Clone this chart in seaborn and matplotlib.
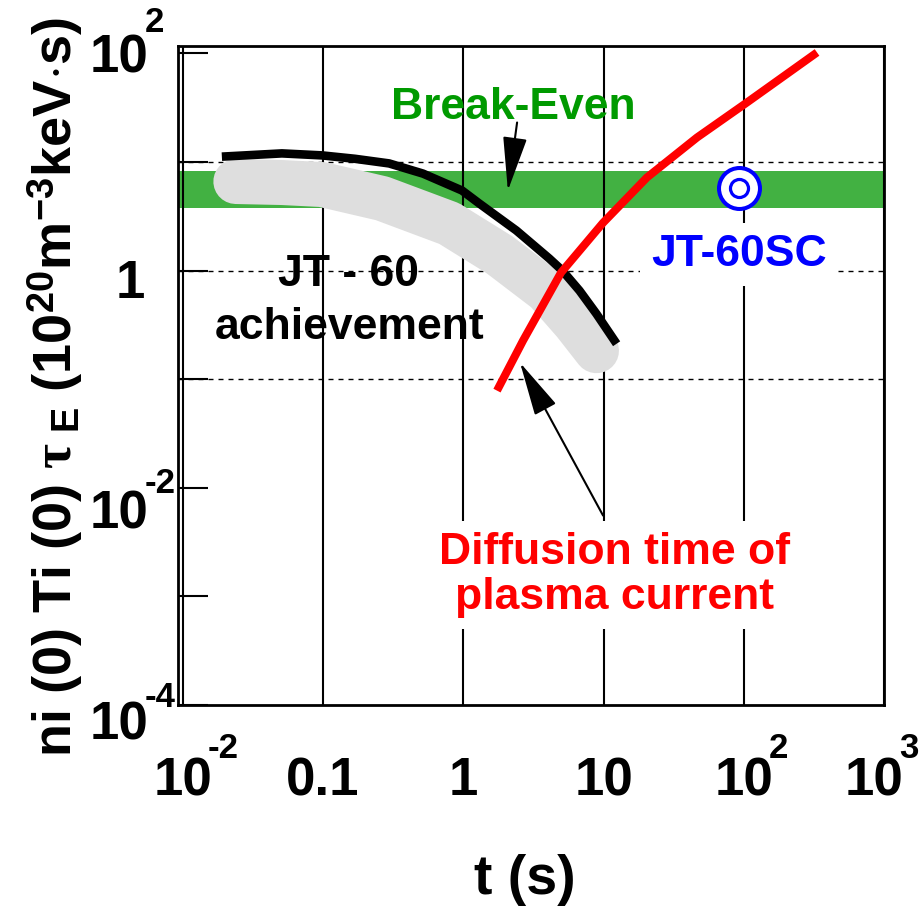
import matplotlib
matplotlib.use("Agg")
import matplotlib.pyplot as plt
from matplotlib.ticker import NullLocator
import seaborn as sns

# ---------------- data ----------------
jt60_t = [0.0190, 0.0509, 0.0984, 0.169, 0.296, 0.516, 0.98, 1.30, 2.39, 4.11, 5.09, 6.74, 8.9, 12.4]
jt60_v = [11.2, 12.0, 11.5, 10.7, 9.7, 7.82, 5.46, 4.15, 2.34, 1.29, 1.0, 0.654, 0.40, 0.212]

gray_t = [0.0239, 0.0509, 0.0984, 0.264, 0.794, 1.81, 3.92, 6.21, 8.91]
gray_v = [6.61, 6.47, 6.2, 4.61, 2.71, 1.40, 0.654, 0.332, 0.183]

diff_t = [1.74, 2.67, 4.98, 9.91, 20.4, 46.4, 105, 333]
diff_v = [0.0785, 0.227, 0.958, 2.75, 7.2, 16.8, 35.2, 102]

breakeven_low = 3.8
breakeven_high = 8.2

jt60sc_t = [92.7]
jt60sc_v = [5.81]

x_ticks = [1e-2, 0.1, 1, 10, 1e2, 1e3]
x_tick_base = ["10", "0.1", "1", "10", "10", "10"]
x_tick_sup = ["-2", "", "", "", "2", "3"]

y_ticks_major = [1e-4, 1e-2, 1, 1e2]
y_tick_base = ["10", "10", "1", "10"]
y_tick_sup = ["-4", "-2", "", "2"]
y_ticks_minor = [1e-3, 1e-1, 10]
dashed_levels = [0.1, 1, 10]

# ---------------- layout / style ----------------
x_label_dx = [0, 0, 0, 0, 0, -10]
y_label_dx = [-30, -30, -33, -30]
y_label_dy = [-35, -41, -27, -19]
y_sup_dy = [-2, -5, 0, 21]

sns.set_theme(style="white")
plt.rcParams["font.family"] = ["Liberation Sans", "DejaVu Sans"]
plt.rcParams["font.weight"] = "bold"
plt.rcParams["text.color"] = "black"
plt.rcParams["axes.labelcolor"] = "black"
plt.rcParams["mathtext.fontset"] = "custom"
plt.rcParams["mathtext.rm"] = "Liberation Sans:bold"
plt.rcParams["mathtext.bf"] = "Liberation Sans:bold"
plt.rcParams["mathtext.sf"] = "Liberation Sans:bold"
plt.rcParams["mathtext.it"] = "Liberation Serif"

fig = plt.figure(figsize=(9.21, 9.09), dpi=100)
ax = fig.add_axes([178 / 921, 1 - 705 / 909, 706 / 921, 659 / 909])
ax.set_xscale("log")
ax.set_yscale("log")
ax.set_xlim(10 ** -2.034, 1e3)
ax.set_ylim(1e-4, 10 ** 2.068)
ax.set_axisbelow("line")

# break-even band
ax.axhspan(breakeven_low, breakeven_high, color="#42b142", lw=0, zorder=1)

# grid
ax.set_xticks(x_ticks)
ax.xaxis.set_minor_locator(NullLocator())
ax.grid(True, axis="x", which="major", color="black", linewidth=1.5, linestyle="-")
for lv in dashed_levels:
    ax.axhline(lv, color="black", lw=1.0, ls=(0, (3.6, 3.6)), zorder=1.8)

# curves
sns.lineplot(x=gray_t, y=gray_v, ax=ax, color="#dedede", linewidth=32.4,
             solid_capstyle="round", solid_joinstyle="round", zorder=2)
sns.lineplot(x=jt60_t, y=jt60_v, ax=ax, color="black", linewidth=6.2,
             solid_capstyle="butt", solid_joinstyle="round", zorder=3)
sns.lineplot(x=diff_t, y=diff_v, ax=ax, color="#ff0000", linewidth=5.8,
             solid_capstyle="butt", solid_joinstyle="round", zorder=4)

# JT-60SC marker
sns.scatterplot(x=jt60sc_t, y=jt60sc_v, ax=ax, s=870, marker="o", color="white",
                edgecolor="#0000ff", linewidth=2.9, zorder=5)
sns.scatterplot(x=jt60sc_t, y=jt60sc_v, ax=ax, s=169, marker="o", color="white",
                edgecolor="#0000ff", linewidth=2.3, zorder=5.5)

arrow_kw = dict(arrowstyle="-|>,head_length=1.7,head_width=0.38",
                color="black", lw=1.5, shrinkA=0, shrinkB=0, mutation_scale=20)

# annotations
ax.text(2.26, 25.1, "Break-Even", color="#009a00", fontsize=32, fontweight="bold",
        ha="center", va="baseline", zorder=6)
ax.annotate("", xy=(2.08, 5.45), xytext=(2.42, 23.1), arrowprops=arrow_kw, zorder=4.5)

ax.text(0.153, 0.727, "JT - 60", color="black", fontsize=32, fontweight="bold",
        ha="center", va="baseline", zorder=6)
ax.text(0.155, 0.236, "achievement", color="black", fontsize=32, fontweight="bold",
        ha="center", va="baseline", zorder=6)

ax.text(92.7, 1.11, "JT-60SC", color="#0000ff", fontsize=32, fontweight="bold",
        ha="center", va="baseline", zorder=6,
        bbox=dict(boxstyle="square,pad=0.25", fc="white", ec="none"))

ax.text(11.9, 7.72e-4, "Diffusion time of\nplasma current", color="#ff0000",
        fontsize=32, fontweight="bold", ha="center", va="baseline",
        multialignment="center", linespacing=1.1, zorder=6,
        bbox=dict(boxstyle="square,pad=0.25", fc="white", ec="none"))
ax.annotate("", xy=(2.54, 0.142), xytext=(9.93, 0.00555), arrowprops=arrow_kw, zorder=4.5)

# ticks
ax.set_yticks(y_ticks_major)
ax.set_yticks(y_ticks_minor, minor=True)
ax.tick_params(axis="y", which="both", direction="in", length=21.6, width=1.5,
               color="black", left=True, right=False, labelleft=False)
ax.tick_params(axis="x", which="both", length=0, labelbottom=False, bottom=False)
ax.set_xlabel("")
ax.set_ylabel("")

for s in ax.spines.values():
    s.set_color("black")
    s.set_linewidth(2)
    s.set_zorder(7)

xt = ax.get_xaxis_transform()
for t, b, sp, dx in zip(x_ticks, x_tick_base, x_tick_sup, x_label_dx):
    ax.annotate(b, xy=(t, 0), xycoords=xt, xytext=(dx, -90), textcoords="offset pixels",
                ha="center", va="baseline", fontsize=38, fontweight="bold",
                color="black", annotation_clip=False)
    if sp:
        ax.annotate(sp, xy=(t, 0), xycoords=xt, xytext=(dx + 25, -53),
                    textcoords="offset pixels", ha="left", va="baseline",
                    fontsize=25, fontweight="bold", color="black",
                    annotation_clip=False)

yt = ax.get_yaxis_transform()
for v, b, sp, dx, dy, sdy in zip(y_ticks_major, y_tick_base, y_tick_sup,
                                 y_label_dx, y_label_dy, y_sup_dy):
    ax.annotate(b, xy=(0, v), xycoords=yt, xytext=(dx, dy), textcoords="offset pixels",
                ha="right", va="baseline", fontsize=38, fontweight="bold",
                color="black", annotation_clip=False)
    if sp:
        ax.annotate(sp, xy=(0, v), xycoords=yt, xytext=(dx - 3, sdy),
                    textcoords="offset pixels", ha="left", va="baseline",
                    fontsize=25, fontweight="bold", color="black",
                    annotation_clip=False)

# axis titles
fig.text(55 / 921, 1 - 387 / 909,
         r"ni (0) Ti (0) $\tau_{\ \mathrm{E}}$ (10$^{20}$m$^{-3}$keV$\cdot$s)",
         rotation=90, ha="center", va="center", fontsize=39, fontweight="bold",
         color="black")
fig.text(525 / 921, 1 - 880 / 909, "t (s)", ha="center", va="center",
         fontsize=40, fontweight="bold", color="black")

fig.savefig("out.png", dpi=100, facecolor="white")
